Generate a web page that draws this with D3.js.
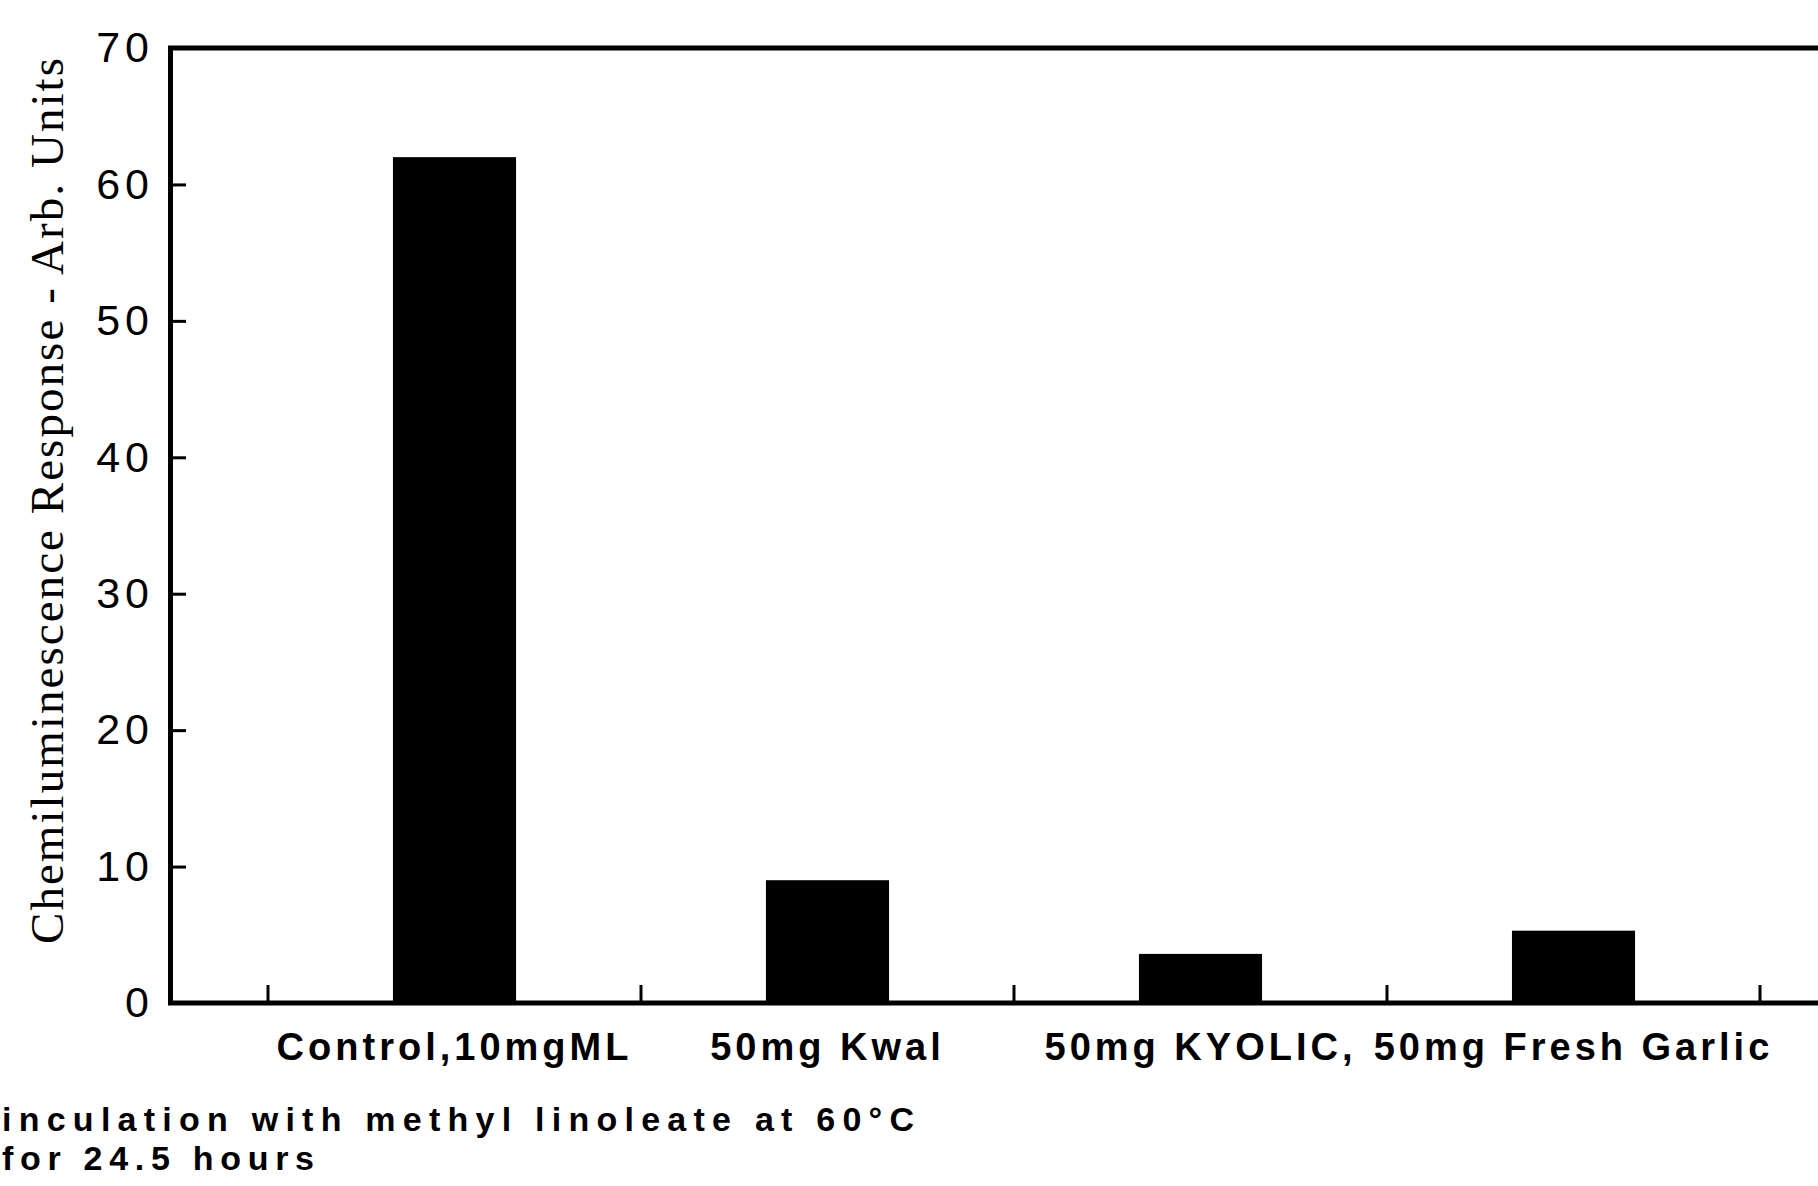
<!DOCTYPE html>
<html>
<head>
<meta charset="utf-8">
<script src="https://cdn.jsdelivr.net/npm/d3@7"></script>
<style>
  body { margin: 0; background: #fff; }
  svg { display: block; }
  .ytick text { font-family: "Liberation Sans", Arial, sans-serif; font-size: 43px; letter-spacing: 5px; }
  .xlabel text { font-family: "Liberation Sans", Arial, sans-serif; font-size: 38px; font-weight: bold; letter-spacing: 4px; }
  .note { font-family: "Liberation Sans", Arial, sans-serif; font-size: 34px; font-weight: bold; }
  .ytitle { font-family: "Liberation Serif", "Times New Roman", serif; font-size: 47px; }
</style>
</head>
<body>
<svg></svg>
<script>
const categories = ["Control,10mgML", "50mg Kwal", "50mg KYOLIC,", "50mg Fresh Garlic"]
const values = [62.0, 9.0, 3.6, 5.3]
const yTicks = [0, 10, 20, 30, 40, 50, 60, 70]
const yTitle = "Chemiluminescence Response - Arb. Units"
const notes = ["inculation with methyl linoleate at 60°C", "for 24.5 hours"]

const width = 1818
const height = 1186
const axisX = 170
const plotTop = 48
const plotBase = 1003

const svg = d3.select("svg")
  .attr("width", width)
  .attr("height", height)

svg.append("rect")
  .attr("width", width)
  .attr("height", height)
  .attr("fill", "#fff")

const x = d3.scaleBand()
  .domain(categories)
  .range([268, 1760])

const y = d3.scaleLinear()
  .domain([0, 70])
  .range([plotBase, plotTop])

const barWidth = x.bandwidth() * 0.33

// bars
svg.append("g")
  .selectAll("rect")
  .data(values)
  .join("rect")
  .attr("x", (d, i) => x(categories[i]) + x.bandwidth() / 2 - barWidth / 2)
  .attr("y", d => y(d))
  .attr("width", barWidth)
  .attr("height", d => y(0) - y(d))
  .attr("fill", "#000")

// left axis, ticks pointing inward
const yAxis = d3.axisLeft(y)
  .tickValues(yTicks)
  .tickSizeInner(-16)
  .tickSizeOuter(0)
  .tickPadding(16)

svg.append("g")
  .attr("class", "ytick")
  .attr("transform", `translate(${axisX}, 0)`)
  .call(yAxis)
  .call(g => g.select(".domain").attr("stroke-width", 5))
  .call(g => g.selectAll(".tick line").attr("stroke-width", 3))
  .call(g => g.selectAll(".tick text").attr("fill", "#000"))

// top frame line
svg.append("line")
  .attr("x1", axisX - 2)
  .attr("x2", width)
  .attr("y1", y(70))
  .attr("y2", y(70))
  .attr("stroke", "#000")
  .attr("stroke-width", 5)

// baseline
svg.append("line")
  .attr("x1", axisX - 2)
  .attr("x2", width)
  .attr("y1", y(0))
  .attr("y2", y(0))
  .attr("stroke", "#000")
  .attr("stroke-width", 5)

// boundary ticks between the bars
const bounds = categories.map(d => x(d)).concat([x.range()[1]])
svg.append("g")
  .selectAll("line")
  .data(bounds)
  .join("line")
  .attr("x1", d => d)
  .attr("x2", d => d)
  .attr("y1", y(0))
  .attr("y2", y(0) - 18)
  .attr("stroke", "#000")
  .attr("stroke-width", 3)

// category labels
const xAxis = d3.axisBottom(x)
  .tickSize(0)
  .tickPadding(30)

svg.append("g")
  .attr("class", "xlabel")
  .attr("transform", `translate(0, ${y(0)})`)
  .call(xAxis)
  .call(g => g.select(".domain").remove())
  .call(g => g.selectAll(".tick text").attr("fill", "#000"))

// y title
svg.append("text")
  .attr("class", "ytitle")
  .attr("transform", "translate(63, 501) rotate(-90)")
  .attr("text-anchor", "middle")
  .attr("textLength", 886)
  .attr("lengthAdjust", "spacing")
  .text(yTitle)

// footnote
svg.append("text")
  .attr("class", "note")
  .attr("x", 2)
  .attr("y", 1131)
  .attr("textLength", 912)
  .attr("lengthAdjust", "spacing")
  .text(notes[0])

svg.append("text")
  .attr("class", "note")
  .attr("x", 2)
  .attr("y", 1170)
  .attr("textLength", 312)
  .attr("lengthAdjust", "spacing")
  .text(notes[1])
</script>
</body>
</html>
